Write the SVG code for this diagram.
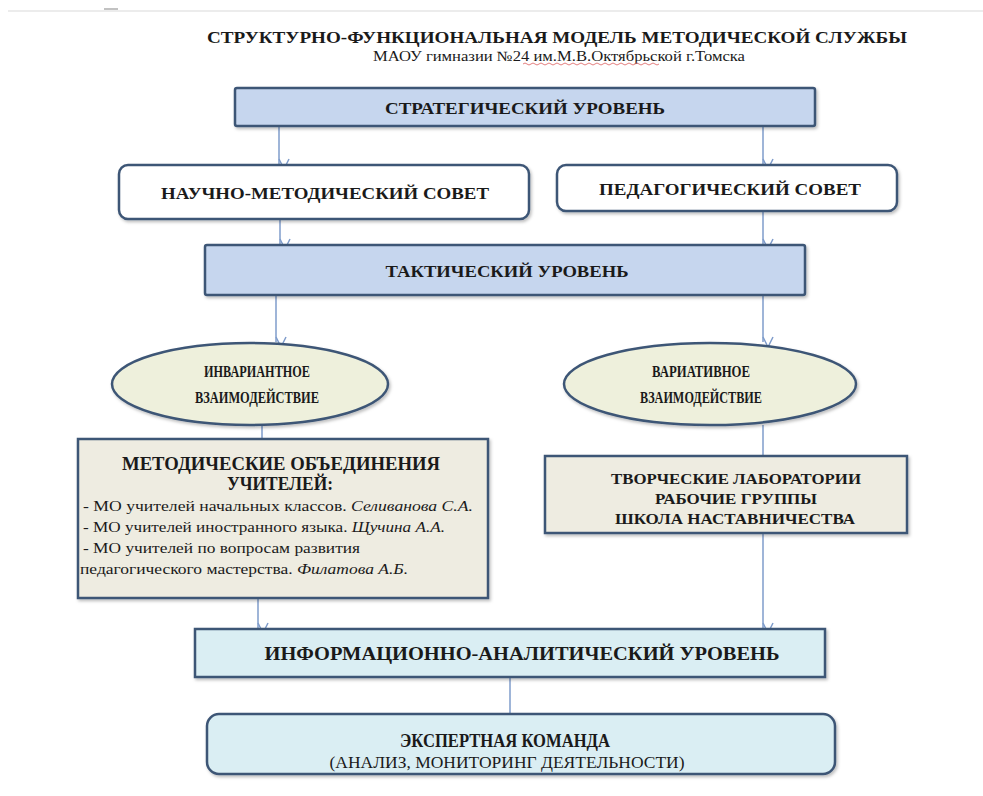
<svg xmlns="http://www.w3.org/2000/svg" width="983" height="796" viewBox="0 0 983 796">
<defs>
<style>
.t{font-family:"Liberation Serif","DejaVu Serif",serif;fill:#1a1a1a}
.b{font-weight:bold}
.box{stroke:#3e5676;stroke-width:2.5}
.conn{stroke:#7f9ccb;stroke-width:1.5;fill:none}
</style>
<marker id="ah" viewBox="0 0 12 12" refX="6" refY="11" markerWidth="12" markerHeight="12" markerUnits="userSpaceOnUse" orient="auto-start-reverse">
<path d="M1,1 L6,11 L11,1" fill="none" stroke="#7f9ccb" stroke-width="1.5" transform="rotate(-90 6 6)"/>
</marker>
<filter id="sh" x="-5%" y="-10%" width="110%" height="130%">
<feDropShadow dx="1.5" dy="2" stdDeviation="1.5" flood-color="#000" flood-opacity="0.25"/>
</filter>
</defs>
<rect width="983" height="796" fill="#ffffff"/>
<line x1="8" y1="11" x2="983" y2="11" stroke="#d9d9d9" stroke-width="1.2"/>
<line x1="104" y1="9" x2="118" y2="9" stroke="#9a9a9a" stroke-width="1.2"/>

<g id="title" font-family="Liberation Serif, DejaVu Serif, serif">
<text class="t b" x="557" y="43" font-size="17" text-anchor="middle" textLength="700" lengthAdjust="spacingAndGlyphs">СТРУКТУРНО-ФУНКЦИОНАЛЬНАЯ МОДЕЛЬ МЕТОДИЧЕСКОЙ СЛУЖБЫ</text>
<text class="t" x="559" y="61" font-size="14" text-anchor="middle" textLength="372" lengthAdjust="spacingAndGlyphs">МАОУ гимназии №24 им.М.В.Октябрьской г.Томска</text>
<path d="M523,64 q2,-2 4,0 t4,0 t4,0 t4,0 t4,0 t4,0 t4,0 t4,0 t4,0 t4,0 t4,0 t4,0 t4,0 t4,0 t4,0 t4,0 t4,0 t4,0 t4,0 t4,0 t4,0 t4,0 t4,0 t4,0 t4,0 t4,0 t4,0 t4,0 t4,0 t4,0 t4,0 t4,0 t4,0 t4,0" fill="none" stroke="#e07070" stroke-width="0.9"/>
</g>

<g id="connectors">
<line class="conn" x1="279" y1="127" x2="279" y2="164" marker-end="url(#ah)"/>
<line class="conn" x1="763" y1="127" x2="763" y2="164" marker-end="url(#ah)"/>
<line class="conn" x1="280" y1="220" x2="280" y2="244" marker-end="url(#ah)"/>
<line class="conn" x1="763" y1="212" x2="763" y2="244" marker-end="url(#ah)"/>
<line class="conn" x1="276" y1="296" x2="276" y2="342" marker-end="url(#ah)"/>
<line class="conn" x1="763" y1="296" x2="763" y2="342" marker-end="url(#ah)"/>
<line class="conn" x1="262" y1="425" x2="262" y2="439"/>
<line class="conn" x1="763" y1="425" x2="763" y2="455"/>
<line class="conn" x1="258" y1="599" x2="258" y2="628" marker-end="url(#ah)"/>
<line class="conn" x1="763" y1="534" x2="763" y2="628" marker-end="url(#ah)"/>
<line class="conn" x1="510" y1="678" x2="510" y2="713"/>
</g>

<g id="strategic" font-family="Liberation Serif, DejaVu Serif, serif">
<rect class="box" x="235" y="88" width="580" height="38" fill="#c6d6ee" rx="2" filter="url(#sh)"/>
<text class="t b" x="525" y="114" font-size="17" text-anchor="middle" textLength="280" lengthAdjust="spacingAndGlyphs">СТРАТЕГИЧЕСКИЙ УРОВЕНЬ</text>
</g>

<g id="nms" font-family="Liberation Serif, DejaVu Serif, serif">
<rect class="box" x="119" y="165" width="410" height="54" rx="9" fill="#ffffff" filter="url(#sh)"/>
<text class="t b" x="325" y="199" font-size="17" text-anchor="middle" textLength="328" lengthAdjust="spacingAndGlyphs">НАУЧНО-МЕТОДИЧЕСКИЙ СОВЕТ</text>
</g>

<g id="ps" font-family="Liberation Serif, DejaVu Serif, serif">
<rect class="box" x="557" y="165" width="340" height="46" rx="9" fill="#ffffff" filter="url(#sh)"/>
<text class="t b" x="730" y="195" font-size="17" text-anchor="middle" textLength="262" lengthAdjust="spacingAndGlyphs">ПЕДАГОГИЧЕСКИЙ СОВЕТ</text>
</g>

<g id="tactical" font-family="Liberation Serif, DejaVu Serif, serif">
<rect class="box" x="205" y="245" width="600" height="50" rx="2" fill="#c6d6ee" filter="url(#sh)"/>
<text class="t b" x="507" y="277" font-size="17" text-anchor="middle" textLength="243" lengthAdjust="spacingAndGlyphs">ТАКТИЧЕСКИЙ УРОВЕНЬ</text>
</g>

<g id="invariant" font-family="Liberation Serif, DejaVu Serif, serif">
<ellipse class="box" cx="250" cy="384" rx="138" ry="41" fill="#eef0dc" stroke-width="3" filter="url(#sh)"/>
<text class="t b" x="257" y="377" font-size="16" text-anchor="middle" textLength="106" lengthAdjust="spacingAndGlyphs">ИНВАРИАНТНОЕ</text>
<text class="t b" x="257" y="403" font-size="16" text-anchor="middle" textLength="124" lengthAdjust="spacingAndGlyphs">ВЗАИМОДЕЙСТВИЕ</text>
</g>

<g id="variative" font-family="Liberation Serif, DejaVu Serif, serif">
<ellipse class="box" cx="710" cy="384" rx="146" ry="41" fill="#eef0dc" stroke-width="3" filter="url(#sh)"/>
<text class="t b" x="701" y="377" font-size="16" text-anchor="middle" textLength="98" lengthAdjust="spacingAndGlyphs">ВАРИАТИВНОЕ</text>
<text class="t b" x="701" y="403" font-size="16" text-anchor="middle" textLength="122" lengthAdjust="spacingAndGlyphs">ВЗАИМОДЕЙСТВИЕ</text>
</g>

<g id="mo" font-family="Liberation Serif, DejaVu Serif, serif">
<rect class="box" x="78" y="439" width="410" height="159" fill="#eeece1" stroke-width="3" filter="url(#sh)"/>
<text class="t b" x="281" y="470" font-size="18" text-anchor="middle" textLength="318" lengthAdjust="spacingAndGlyphs">МЕТОДИЧЕСКИЕ ОБЪЕДИНЕНИЯ</text>
<text class="t b" x="280" y="490" font-size="18" text-anchor="middle" textLength="106" lengthAdjust="spacingAndGlyphs">УЧИТЕЛЕЙ:</text>
<text class="t" x="83" y="511" font-size="14" textLength="390" lengthAdjust="spacingAndGlyphs">- МО учителей начальных классов. <tspan font-style="italic">Селиванова С.А.</tspan></text>
<text class="t" x="83" y="532" font-size="14" textLength="362" lengthAdjust="spacingAndGlyphs">- МО учителей иностранного языка. <tspan font-style="italic">Щучина А.А.</tspan></text>
<text class="t" x="83" y="553" font-size="14" textLength="277" lengthAdjust="spacingAndGlyphs">- МО учителей по вопросам развития</text>
<text class="t" x="80" y="574" font-size="14" textLength="328" lengthAdjust="spacingAndGlyphs">педагогического мастерства. <tspan font-style="italic">Филатова А.Б.</tspan></text>
</g>

<g id="tl" font-family="Liberation Serif, DejaVu Serif, serif">
<rect class="box" x="545" y="456" width="362" height="77" fill="#eeece1" stroke-width="3" filter="url(#sh)"/>
<text class="t b" x="736" y="484" font-size="15" text-anchor="middle" textLength="250" lengthAdjust="spacingAndGlyphs">ТВОРЧЕСКИЕ ЛАБОРАТОРИИ</text>
<text class="t b" x="736" y="504" font-size="15" text-anchor="middle" textLength="162" lengthAdjust="spacingAndGlyphs">РАБОЧИЕ ГРУППЫ</text>
<text class="t b" x="735" y="524" font-size="15" text-anchor="middle" textLength="240" lengthAdjust="spacingAndGlyphs">ШКОЛА НАСТАВНИЧЕСТВА</text>
</g>

<g id="ia" font-family="Liberation Serif, DejaVu Serif, serif">
<rect class="box" x="195" y="629" width="630" height="48" fill="#daeef3" filter="url(#sh)"/>
<text class="t b" x="522" y="660" font-size="19" text-anchor="middle" textLength="515" lengthAdjust="spacingAndGlyphs">ИНФОРМАЦИОННО-АНАЛИТИЧЕСКИЙ  УРОВЕНЬ</text>
</g>

<g id="expert" font-family="Liberation Serif, DejaVu Serif, serif">
<rect class="box" x="207" y="714" width="628" height="60" rx="12" fill="#daeef3" filter="url(#sh)"/>
<text class="t b" x="505" y="747" font-size="19" text-anchor="middle" textLength="210" lengthAdjust="spacingAndGlyphs">ЭКСПЕРТНАЯ КОМАНДА</text>
<text class="t" x="507" y="768" font-size="17" text-anchor="middle" textLength="355" lengthAdjust="spacingAndGlyphs">(АНАЛИЗ, МОНИТОРИНГ ДЕЯТЕЛЬНОСТИ)</text>
</g>
</svg>
